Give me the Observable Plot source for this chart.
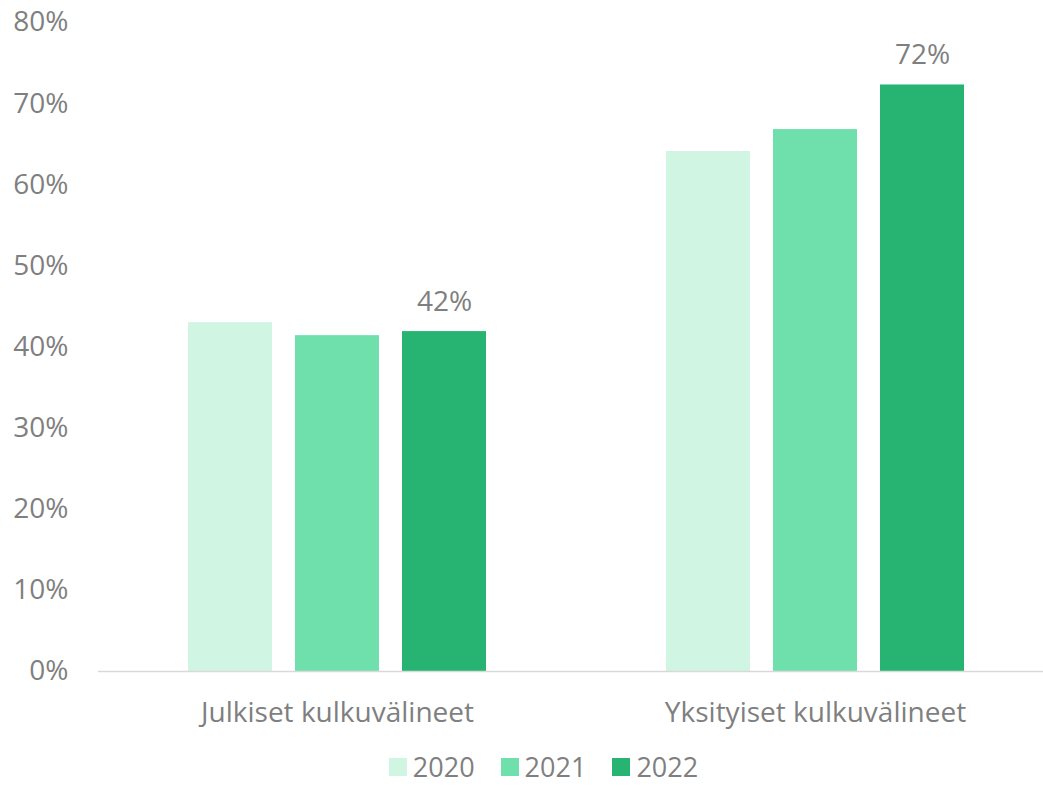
<!DOCTYPE html>
<html>
<head>
<meta charset="utf-8">
<script src="https://cdn.jsdelivr.net/npm/d3@7"></script>
<script src="https://cdn.jsdelivr.net/npm/@observablehq/plot@0.6"></script>
<style>
  body { margin: 0; background: white; }
  #chart { width: 1043px; }
  .legend { display: flex; justify-content: center; align-items: center; gap: 26px; font-family: "Open Sans", sans-serif; font-size: 27px; line-height: 36px; height: 36px; color: #7f7f7f; margin-top: 14px; padding-left: 44px; }
  .legend span.item { display: flex; align-items: center; gap: 6px; }
  .legend span.sw { width: 18px; height: 18px; display: inline-block; }
</style>
</head>
<body>
<div id="chart"></div>
<script>
const categories = ["Julkiset kulkuvälineet", "Yksityiset kulkuvälineet"];
const years = ["2020", "2021", "2022"];
const v2020 = [43.0, 64.1];
const v2021 = [41.4, 66.8];
const v2022 = [41.9, 72.3];
const yTicks = [0, 10, 20, 30, 40, 50, 60, 70, 80];
const colors = ["#d0f5e3", "#6fe0ac", "#27b473"];

const series = [v2020, v2021, v2022];
const data = categories.flatMap((c, i) => years.map((y, j) => ({category: c, year: y, value: series[j][i]})));

const font = "'Open Sans', sans-serif";
const chart = Plot.plot({
  width: 1043,
  height: 735,
  marginLeft: 98,
  marginRight: -11,
  marginTop: 22,
  marginBottom: 64,
  style: {fontFamily: font, color: "#7f7f7f", background: "white"},
  fx: {domain: categories, padding: 0, label: null},
  x: {domain: years, paddingInner: 0.217, paddingOuter: 0.837, axis: null},
  y: {domain: [0, 80], label: null},
  color: {domain: years, range: colors},
  marks: [
    Plot.axisY({ticks: yTicks, tickSize: 0, tickPadding: 30, fontSize: 28, tickFormat: d => d + "%", label: null}),
    Plot.axisFx({anchor: "bottom", tickSize: 0, tickPadding: 31, fontSize: 28, label: null}),
    Plot.barY(data, {fx: "category", x: "year", y: "value", fill: "year"}),
    Plot.ruleY([0], {stroke: "#d9d9d9", strokeWidth: 1.5}),
    Plot.text(data.filter(d => d.year === "2022"), {fx: "category", x: "year", y: "value", text: d => Math.round(d.value) + "%", dy: -30, fontSize: 28, fill: "#7f7f7f"})
  ]
});
document.getElementById("chart").appendChild(chart);

const legend = document.createElement("div");
legend.className = "legend";
years.forEach((y, i) => {
  const item = document.createElement("span");
  item.className = "item";
  const sw = document.createElement("span");
  sw.className = "sw";
  sw.style.background = colors[i];
  const t = document.createElement("span");
  t.textContent = y;
  item.appendChild(sw);
  item.appendChild(t);
  legend.appendChild(item);
});
document.getElementById("chart").appendChild(legend);
</script>
</body>
</html>
